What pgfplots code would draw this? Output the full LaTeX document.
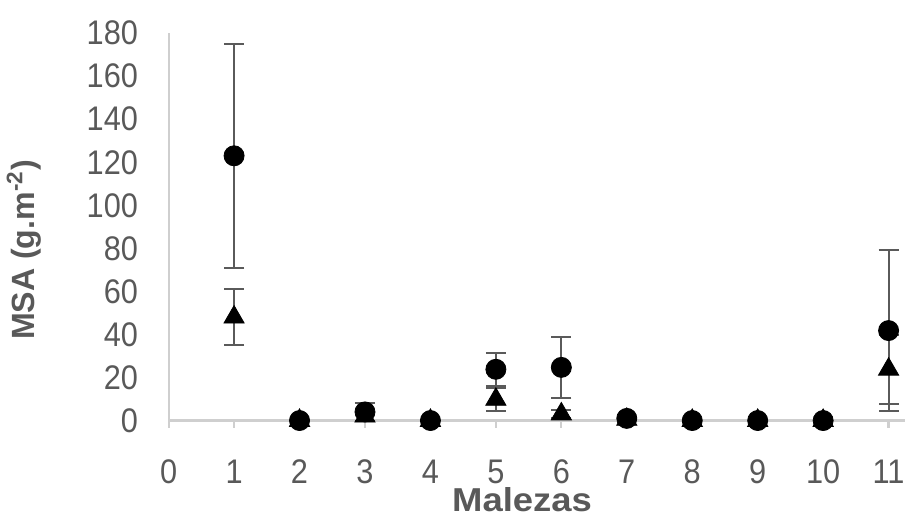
\documentclass[border=0pt]{standalone}
\usepackage{fontspec}
\setmainfont{Liberation Sans}
\newfontfamily\tickfont[FakeStretch=0.9]{Liberation Sans}
\newfontfamily\labfont[FakeStretch=1.1]{Liberation Sans}
\usepackage{pgfplots}
\pgfplotsset{compat=1.18}
\definecolor{txtgray}{HTML}{595959}
\definecolor{axgray}{HTML}{CFCFCF}
\definecolor{errgray}{HTML}{5A5A5A}
\pgfplotstableread{
x  y     e
1  123   52
2  0     0
3  4     4
4  0     0
5  23.8  7.6
6  24.7  14.3
7  1     0.8
8  0     0
9  0     0
10 0     0
11 41.8  37.5
}\circdata
\pgfplotstableread{
x  y     e
1  48    13
2  0     0
3  2     2
4  0     0
5  9.8   5.5
6  3     2
7  0.5   0.4
8  0     0
9  0     0
10 0     0
11 23.8  16
}\tridata
\begin{document}
\begin{tikzpicture}
\begin{axis}[
  x=32.6pt, y=1.072pt,
  scale only axis,
  xmin=0, xmax=11.25,
  ymin=0, ymax=180,
  clip=false,
  axis x line=bottom, axis y line=left,
  axis line style={-, axgray, line width=1.1pt},
  xtick={0,1,...,11},
  ytick={0,20,...,180},
  tick style={axgray, line width=1.1pt},
  xtick align=outside,
  major tick length=3.5pt,
  y tick style={draw=none},
  tick label style={font=\tickfont\fontsize{17}{17}\selectfont, color=txtgray},
  /pgf/number format/assume math mode=true,
  yticklabel style={xshift=-10pt},
  xticklabel style={anchor=base, inner sep=0pt, yshift=-28pt},
  xlabel={\bfseries Malezas},
  ylabel={\bfseries MSA (g.m\textsuperscript{-2})},
  xlabel style={font=\labfont\fontsize{16.5}{16.5}\selectfont, color=txtgray,
    at={(axis description cs:0.48,0)}, anchor=base, inner sep=0pt, yshift=-45.5pt},
  ylabel style={font=\fontsize{16}{16}\selectfont, color=txtgray,
    at={(ticklabel cs:0.44)}, yshift=15.5pt},
]
\addplot[only marks, mark=*, mark size=5pt, black,
  error bars/.cd, y dir=both, y explicit,
  error bar style={errgray, line width=0.9pt},
  error mark options={rotate=90, mark size=5pt, errgray, line width=0.9pt}]
  table[x=x, y=y, y error=e] {\circdata};
\addplot[only marks, mark=triangle*, mark size=5.8pt, black,
  error bars/.cd, y dir=both, y explicit,
  error bar style={errgray, line width=0.9pt},
  error mark options={rotate=90, mark size=5pt, errgray, line width=0.9pt}]
  table[x=x, y=y, y error=e] {\tridata};
% room round the plot, as in the reference
\path (rel axis cs:0,1) ++(0,16.5pt);
\path (rel axis cs:1,0) ++(5pt,-48pt);
\end{axis}
\end{tikzpicture}
\end{document}
